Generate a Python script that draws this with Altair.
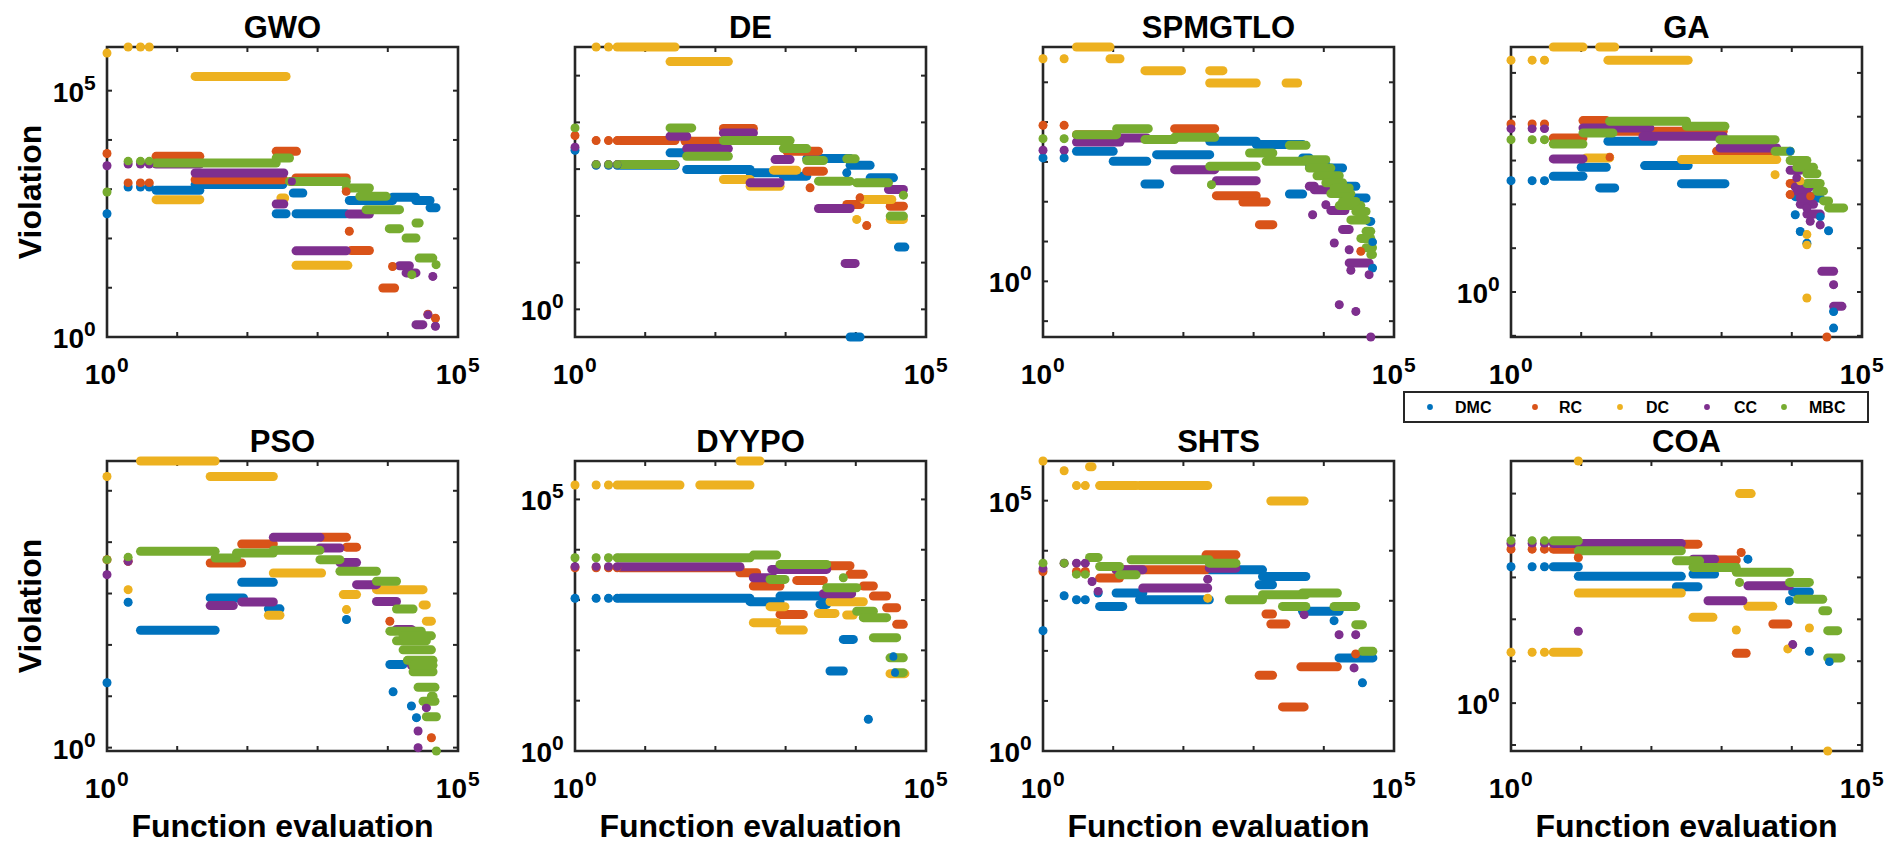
import math
import altair as alt
import pandas as pd

SERIES = ["DMC", "RC", "DC", "CC", "MBC"]
COLORS = ["#0072BD", "#D95319", "#EDB120", "#7E2F8E", "#77AC30"]
PANELS = ["GWO", "DE", "SPMGTLO", "GA", "PSO", "DYYPO", "SHTS", "COA"]
X_TITLE = "Function evaluation"
Y_TITLE = "Violation"

X_LIMITS = [1, 100000]
X_LABELED = [1, 100000]
X_MINOR = [10, 100, 1000, 10000]

Y_MIN = [1, 0.256, 0.04, 0.094, 0.86, 1, 1, 0.072]
Y_MAX = [7.7e5, 4.1e5, 7.7e5, 3.9e5, 3.8e5, 5.8e5, 6.2e5, 6.0e5]
Y_LABELED = [[1, 100000], [1], [1], [1], [1], [1, 100000], [1, 100000], [1]]
Y_MINOR = [
    [10, 100, 1e3, 1e4, 1e5],
    [1, 10, 100, 1e3, 1e4, 1e5],
    [0.1, 1, 10, 100, 1e3, 1e4, 1e5],
    [0.1, 1, 10, 100, 1e3, 1e4, 1e5],
    [1, 10, 100, 1e3, 1e4, 1e5],
    [10, 100, 1e3, 1e4, 1e5],
    [10, 100, 1e3, 1e4, 1e5],
    [0.1, 1, 10, 100, 1e3, 1e4, 1e5],
]

# (series, first evaluation, last evaluation, violation)
GWO = [
    ("DMC", 1, 1, 318), ("DMC", 2, 2, 1110), ("DMC", 3, 3, 1110), ("DMC", 4, 4, 1110),
    ("DMC", 5, 21, 950), ("DMC", 18, 320, 1240), ("DMC", 257, 356, 318), ("DMC", 450, 616, 837),
    ("DMC", 493, 2560, 318), ("DMC", 2830, 11700, 590), ("DMC", 11700, 25000, 684),
    ("DMC", 25000, 40000, 590), ("DMC", 40000, 48700, 420),
    ("RC", 1, 1, 5300), ("RC", 2, 2, 1340), ("RC", 3, 3, 1340), ("RC", 4, 4, 1340),
    ("RC", 5, 21, 4650), ("RC", 18, 330, 1560), ("RC", 257, 500, 5870), ("RC", 490, 2560, 1690),
    ("RC", 2560, 2560, 910), ("RC", 2830, 2830, 140), ("RC", 3000, 5470, 57),
    ("RC", 11700, 11700, 27), ("RC", 8500, 12500, 9.9), ("RC", 37300, 37300, 2.9),
    ("RC", 47700, 47700, 2.4),
    ("DC", 1, 1, 5.8e5), ("DC", 2, 2, 7.7e5), ("DC", 3, 3, 7.7e5), ("DC", 4, 4, 7.7e5),
    ("DC", 5, 21, 614), ("DC", 18, 356, 1.95e5), ("DC", 300, 340, 662), ("DC", 493, 2700, 28.5),
    ("CC", 1, 1, 3000), ("CC", 2, 2, 3250), ("CC", 3, 3, 3250), ("CC", 4, 4, 3250),
    ("CC", 5, 21, 3250), ("CC", 18, 330, 2130), ("CC", 257, 330, 500), ("CC", 430, 430, 1440),
    ("CC", 493, 2560, 56), ("CC", 2830, 5470, 314), ("CC", 14700, 20300, 28),
    ("CC", 18200, 25200, 20), ("CC", 43800, 43800, 17), ("CC", 25200, 31600, 1.78),
    ("CC", 37300, 37300, 2.84), ("CC", 47700, 47700, 1.65),
    ("MBC", 1, 1, 877), ("MBC", 2, 2, 3680), ("MBC", 3, 3, 3680), ("MBC", 4, 4, 3680),
    ("MBC", 5, 257, 3400), ("MBC", 257, 398, 4300), ("MBC", 398, 2560, 1440),
    ("MBC", 2560, 5470, 1060), ("MBC", 4000, 9500, 716), ("MBC", 4900, 14700, 384),
    ("MBC", 10500, 14700, 158), ("MBC", 18200, 25200, 102), ("MBC", 25200, 28000, 206),
    ("MBC", 28000, 43800, 40), ("MBC", 22000, 22000, 18.4), ("MBC", 48700, 48700, 29.4),
]

DE = [
    ("DMC", 1, 1, 2540), ("DMC", 2, 2, 1210), ("DMC", 3, 3, 1210), ("DMC", 4, 4, 1210),
    ("DMC", 4.4, 26.6, 1210), ("DMC", 22.6, 39, 2230), ("DMC", 39, 312, 980),
    ("DMC", 312, 930, 832), ("DMC", 930, 2000, 706), ("DMC", 2000, 8300, 1680),
    ("DMC", 8300, 16000, 1210), ("DMC", 7440, 7440, 832), ("DMC", 16000, 34400, 650),
    ("DMC", 40500, 50000, 21.5), ("DMC", 8300, 11500, 0.256),
    ("RC", 1, 1, 5220), ("RC", 2, 2, 4080), ("RC", 3, 3, 4080), ("RC", 4, 4, 4080),
    ("RC", 4.4, 26.6, 4080), ("RC", 37, 130, 3950), ("RC", 130, 348, 7400),
    ("RC", 1040, 2940, 2420), ("RC", 2000, 3460, 903), ("RC", 2230, 2230, 398),
    ("RC", 7440, 11500, 175), ("RC", 11500, 11500, 243), ("RC", 14300, 14300, 62),
    ("RC", 30900, 47700, 161),
    ("DC", 2, 2, 4.1e5), ("DC", 3, 3, 4.1e5), ("DC", 4, 4, 4.1e5), ("DC", 4.4, 26.6, 4.1e5),
    ("DC", 22.6, 153, 2.0e5), ("DC", 130, 312, 600), ("DC", 312, 835, 431),
    ("DC", 671, 1440, 950), ("DC", 12900, 32600, 224), ("DC", 10300, 10300, 84),
    ("DC", 30900, 47700, 84),
    ("CC", 1, 1, 2940), ("CC", 2, 2, 1250), ("CC", 3, 3, 1250), ("CC", 4, 4, 1250),
    ("CC", 4.4, 26.6, 1250), ("CC", 22.6, 39, 5060), ("CC", 39, 153, 2750),
    ("CC", 130, 348, 5960), ("CC", 312, 835, 509), ("CC", 708, 1160, 1600),
    ("CC", 2940, 8300, 144), ("CC", 7040, 9800, 9.6), ("CC", 29200, 47700, 366),
    ("MBC", 1, 1, 7620), ("MBC", 2, 2, 1250), ("MBC", 3, 3, 1250), ("MBC", 4, 4, 1250),
    ("MBC", 4.4, 26.6, 1250), ("MBC", 22.6, 46, 7620), ("MBC", 39, 153, 1890),
    ("MBC", 130, 1160, 4080), ("MBC", 930, 2000, 2750), ("MBC", 2000, 3460, 1530),
    ("MBC", 2940, 8300, 552), ("MBC", 7440, 9800, 1660), ("MBC", 10300, 29200, 509),
    ("MBC", 30900, 47700, 99), ("MBC", 47700, 47700, 277),
]

SPMGTLO = [
    ("DMC", 1, 1, 1260), ("DMC", 2, 2, 1260), ("DMC", 3, 10, 1850), ("DMC", 10, 30, 1036),
    ("DMC", 28.3, 46, 279), ("DMC", 41.5, 237, 1520), ("DMC", 237, 1090, 3300),
    ("DMC", 1090, 5000, 2720), ("DMC", 3240, 5000, 156), ("DMC", 5000, 6220, 1260),
    ("DMC", 6220, 10700, 853), ("DMC", 10700, 18500, 704), ("DMC", 18500, 28600, 244),
    ("DMC", 28600, 40000, 124), ("DMC", 44200, 46700, 32), ("DMC", 49400, 49400, 9.7),
    ("DMC", 49400, 49400, 2.16),
    ("RC", 1, 1, 8300), ("RC", 2, 2, 8300), ("RC", 3, 9, 4840), ("RC", 75, 279, 6850),
    ("RC", 295, 1090, 142), ("RC", 704, 1510, 98), ("RC", 1210, 1880, 26.5),
    ("RC", 33700, 33700, 5.7),
    ("DC", 1, 1, 3.9e5), ("DC", 2, 2, 3.9e5), ("DC", 3, 9, 7.7e5), ("DC", 9, 12.5, 3.9e5),
    ("DC", 28.3, 94, 1.96e5), ("DC", 237, 366, 1.96e5), ("DC", 237, 1090, 9.6e4),
    ("DC", 2900, 4250, 9.6e4),
    ("CC", 1, 1, 1960), ("CC", 2, 2, 1960), ("CC", 3, 12.5, 3170), ("CC", 11.2, 30, 3990),
    ("CC", 75, 279, 640), ("CC", 295, 1090, 338), ("CC", 6220, 7320, 244),
    ("CC", 7320, 12600, 200), ("CC", 12600, 20000, 60), ("CC", 18500, 23000, 20),
    ("CC", 6930, 6930, 47), ("CC", 10700, 10700, 84), ("CC", 14100, 14100, 9.2),
    ("CC", 23000, 23000, 6.2), ("CC", 23000, 44200, 2.9), ("CC", 24300, 24300, 1.9),
    ("CC", 44200, 44200, 1.47), ("CC", 16600, 16600, 0.26), ("CC", 28600, 28600, 0.176),
    ("CC", 46700, 46700, 0.04),
    ("MBC", 1, 1, 3840), ("MBC", 2, 2, 3840), ("MBC", 3, 11.2, 4840), ("MBC", 11.2, 31.6, 6850),
    ("MBC", 28.3, 75, 3630), ("MBC", 75, 279, 4150), ("MBC", 237, 1090, 775),
    ("MBC", 251, 251, 268), ("MBC", 876, 1880, 1680), ("MBC", 1510, 5580, 1036),
    ("MBC", 3240, 5580, 2610), ("MBC", 5580, 10700, 1140), ("MBC", 6220, 12600, 700),
    ("MBC", 8000, 16600, 450), ("MBC", 10700, 18500, 300), ("MBC", 12600, 24300, 160),
    ("MBC", 14100, 23000, 221), ("MBC", 16600, 33700, 80), ("MBC", 18500, 28600, 102),
    ("MBC", 24300, 40000, 35), ("MBC", 28600, 40000, 57), ("MBC", 33700, 46700, 12),
    ("MBC", 40000, 46700, 18), ("MBC", 40000, 49400, 7), ("MBC", 46700, 49400, 4.7),
]

GA = [
    ("DMC", 1, 1, 348), ("DMC", 2, 2, 348), ("DMC", 3, 3, 348), ("DMC", 4, 10.6, 437),
    ("DMC", 10, 22.8, 702), ("DMC", 18.3, 30, 237), ("DMC", 24, 106, 2750),
    ("DMC", 80, 334, 766), ("DMC", 268, 1116, 297), ("DMC", 9470, 9470, 1630),
    ("DMC", 11200, 20400, 150), ("DMC", 11200, 11200, 58), ("DMC", 13200, 13200, 24),
    ("DMC", 16400, 16400, 13), ("DMC", 18300, 25400, 140), ("DMC", 25400, 25400, 53),
    ("DMC", 33400, 33400, 25), ("DMC", 39400, 39400, 0.36), ("DMC", 39400, 39400, 0.15),
    ("RC", 1, 1, 6850), ("RC", 2, 2, 6850), ("RC", 3, 3, 6850), ("RC", 4, 10.6, 3280),
    ("RC", 10.6, 22.8, 8160), ("RC", 25.4, 25.4, 1190), ("RC", 28.3, 1056, 4660),
    ("RC", 849, 6110, 1630), ("RC", 9470, 13200, 300), ("RC", 9470, 9470, 167),
    ("RC", 18300, 18300, 153), ("RC", 31600, 31600, 0.094),
    ("DC", 1, 1, 1.95e5), ("DC", 2, 2, 1.95e5), ("DC", 3, 3, 1.95e5), ("DC", 4, 10.6, 3.9e5),
    ("DC", 18.3, 30, 3.9e5), ("DC", 24, 334, 1.95e5), ("DC", 11.8, 25.4, 1150),
    ("DC", 268, 6110, 1050), ("DC", 5780, 5780, 477), ("DC", 13200, 13200, 336),
    ("DC", 16400, 16400, 20.4), ("DC", 16400, 16400, 12), ("DC", 16400, 16400, 0.73),
    ("CC", 1, 1, 5360), ("CC", 2, 2, 5360), ("CC", 3, 3, 5360), ("CC", 4, 10.6, 1090),
    ("CC", 10.6, 95, 5550), ("CC", 76, 1056, 3580), ("CC", 947, 6110, 1940),
    ("CC", 9470, 13200, 600), ("CC", 11200, 18300, 250), ("CC", 13200, 20400, 100),
    ("CC", 16400, 25400, 60),
    ("CC", 11800, 11800, 401), ("CC", 11800, 16400, 200), ("CC", 13200, 16400, 140),
    ("CC", 16400, 16400, 83), ("CC", 18300, 18300, 41), ("CC", 25400, 25400, 34),
    ("CC", 26800, 39400, 2.97), ("CC", 39400, 39400, 1.47), ("CC", 39400, 51800, 0.47),
    ("MBC", 1, 1, 3000), ("MBC", 2, 2, 3000), ("MBC", 3, 3, 3000), ("MBC", 4, 10.6, 2390),
    ("MBC", 10.6, 28.3, 4270), ("MBC", 25.4, 316, 7880), ("MBC", 316, 1116, 6060),
    ("MBC", 947, 5780, 3000), ("MBC", 5780, 9470, 1630), ("MBC", 9470, 16400, 1000),
    ("MBC", 11800, 20400, 700), ("MBC", 16400, 25400, 300),
    ("MBC", 16400, 22800, 500), ("MBC", 22800, 28300, 200), ("MBC", 28300, 33400, 120),
    ("MBC", 33400, 54700, 83),
]

PSO = [
    ("DMC", 1, 1, 18.3), ("DMC", 2, 2, 676), ("DMC", 3, 34.7, 193), ("DMC", 29.5, 88, 822),
    ("DMC", 83, 234, 1660), ("DMC", 199, 291, 503), ("DMC", 2580, 2580, 312),
    ("DMC", 10700, 16500, 41.6), ("DMC", 11900, 11900, 12.2), ("DMC", 21700, 21700, 6.45),
    ("DMC", 25600, 25600, 3.83),
    ("RC", 1, 1, 4560), ("RC", 2, 2, 4240), ("RC", 29.5, 83, 3930), ("RC", 83, 234, 9200),
    ("RC", 1140, 2580, 12400), ("RC", 2580, 3590, 8000), ("RC", 10700, 10700, 289),
    ("RC", 41800, 41800, 1.56),
    ("DC", 1, 1, 1.9e5), ("DC", 2, 2, 1190), ("DC", 3, 34.7, 3.8e5), ("DC", 29.5, 234, 1.9e5),
    ("DC", 199, 291, 378), ("DC", 234, 1140, 2510), ("DC", 2320, 3590, 953),
    ("DC", 2580, 2580, 487), ("DC", 6900, 31800, 1190), ("DC", 31800, 35400, 600),
    ("DC", 35400, 41800, 290),
    ("CC", 1, 1, 2330), ("CC", 2, 2, 4240), ("CC", 29.5, 63, 583), ("CC", 83, 234, 687),
    ("CC", 234, 1080, 12400), ("CC", 1080, 2080, 7690), ("CC", 2080, 3590, 4000),
    ("CC", 3590, 6900, 1490), ("CC", 6900, 13300, 700), ("CC", 13300, 21700, 200),
    ("CC", 21700, 27000, 40), ("CC", 27000, 27000, 2.11), ("CC", 27000, 27000, 1.0),
    ("CC", 35400, 35400, 6.0),
    ("MBC", 1, 1, 4560), ("MBC", 2, 2, 5070), ("MBC", 3, 34.7, 6620), ("MBC", 34.7, 70, 4920),
    ("MBC", 70, 234, 6150), ("MBC", 234, 1080, 6930), ("MBC", 1080, 2080, 4560),
    ("MBC", 2080, 6900, 2710), ("MBC", 6900, 13300, 1730), ("MBC", 13300, 22900, 500),
    ("MBC", 10700, 30000, 185), ("MBC", 13300, 35400, 120), ("MBC", 16500, 41800, 80),
    ("MBC", 19000, 44100, 50), ("MBC", 22900, 44100, 30), ("MBC", 27000, 47000, 15),
    ("MBC", 31800, 47000, 8), ("MBC", 35400, 49200, 4),
    ("MBC", 16500, 41800, 150), ("MBC", 22900, 44100, 40), ("MBC", 41800, 44100, 10),
    ("MBC", 49200, 49200, 0.86),
]

DYYPO = [
    ("DMC", 1, 1, 1080), ("DMC", 2, 2, 1080), ("DMC", 3, 3, 1080), ("DMC", 4, 4, 1080),
    ("DMC", 4.4, 311, 1080), ("DMC", 311, 832, 930), ("DMC", 832, 3450, 1200),
    ("DMC", 3090, 3850, 820), ("DMC", 4290, 6640, 38.8), ("DMC", 6640, 9220, 165),
    ("DMC", 15100, 15100, 4.26), ("DMC", 34300, 34300, 74.8), ("DMC", 36200, 36200, 36),
    ("RC", 1, 1, 4390), ("RC", 2, 2, 4390), ("RC", 3, 3, 4390), ("RC", 4, 4, 4390),
    ("RC", 4.4, 224, 4390), ("RC", 224, 387, 3490), ("RC", 347, 832, 1900),
    ("RC", 832, 1790, 519), ("RC", 1440, 3450, 2460), ("RC", 3850, 8270, 4800),
    ("RC", 8270, 12800, 3240), ("RC", 12800, 17800, 1900), ("RC", 17800, 27500, 1200),
    ("RC", 27500, 38200, 704), ("RC", 38200, 47500, 329),
    ("DC", 1, 1, 1.93e5), ("DC", 2, 2, 1.93e5), ("DC", 3, 3, 1.93e5), ("DC", 4, 4, 1.93e5),
    ("DC", 4.4, 31.3, 1.93e5), ("DC", 60, 311, 1.93e5), ("DC", 224, 432, 5.8e5),
    ("DC", 347, 746, 355), ("DC", 600, 980, 738), ("DC", 832, 1790, 253),
    ("DC", 2930, 5060, 543), ("DC", 4290, 12800, 927), ("DC", 7410, 9220, 504),
    ("DC", 30700, 50000, 34.4),
    ("CC", 1, 1, 4590), ("CC", 2, 2, 4590), ("CC", 3, 3, 4590), ("CC", 4, 4, 4590),
    ("CC", 4.4, 224, 4590), ("CC", 347, 669, 2780), ("CC", 634, 3850, 4070),
    ("CC", 3450, 8730, 1340),
    ("MBC", 1, 1, 6930), ("MBC", 2, 2, 6930), ("MBC", 3, 3, 6930), ("MBC", 4, 4, 6930),
    ("MBC", 4.4, 311, 6930), ("MBC", 347, 746, 7830), ("MBC", 600, 980, 2570),
    ("MBC", 832, 3850, 5110), ("MBC", 3850, 10300, 1760), ("MBC", 6640, 6640, 2780),
    ("MBC", 10300, 17800, 600), ("MBC", 12800, 27500, 446), ("MBC", 17800, 38200, 179),
    ("MBC", 30700, 47500, 71), ("MBC", 38200, 47500, 36),
]

SHTS = [
    ("DMC", 1, 1, 253), ("DMC", 2, 2, 1260), ("DMC", 3, 3, 1050), ("DMC", 4, 4, 1050),
    ("DMC", 6.1, 6.1, 1430), ("DMC", 6.4, 13.7, 773), ("DMC", 11, 26.4, 1430),
    ("DMC", 23.7, 234, 1050), ("DMC", 234, 1340, 4160), ("DMC", 1200, 1860, 2090),
    ("DMC", 1340, 5550, 3060), ("DMC", 4980, 16500, 615), ("DMC", 14000, 14000, 401),
    ("DMC", 16500, 50000, 72.3), ("DMC", 35500, 35500, 23),
    ("RC", 1, 1, 3850), ("RC", 3, 3, 3850), ("RC", 4, 4, 3850), ("RC", 6.4, 12.3, 2840),
    ("RC", 11, 210, 4160), ("RC", 210, 561, 8270), ("RC", 1500, 1860, 544),
    ("RC", 1760, 2880, 344), ("RC", 1200, 1860, 32.6), ("RC", 2580, 5250, 7.6),
    ("RC", 4710, 15600, 47.9), ("RC", 28500, 28500, 86.9),
    ("DC", 1, 1, 6.2e5), ("DC", 2, 2, 3.96e5), ("DC", 3, 3, 2e5), ("DC", 4, 4, 2e5),
    ("DC", 4.6, 5, 4.75e5), ("DC", 6.4, 21.2, 2e5), ("DC", 23.7, 222, 2e5),
    ("DC", 222, 222, 1130), ("DC", 1760, 5250, 9.85e4),
    ("CC", 1, 1, 4350), ("CC", 2, 2, 5640), ("CC", 3, 3, 5640), ("CC", 4, 4, 5640),
    ("CC", 5, 5, 2430), ("CC", 6.1, 6.1, 1540), ("CC", 11, 26.4, 4160), ("CC", 26.4, 222, 1800),
    ("CC", 222, 222, 2710), ("CC", 234, 561, 4490), ("CC", 5250, 5250, 528),
    ("CC", 16500, 16500, 211), ("CC", 28500, 28500, 211), ("CC", 27000, 27000, 45.7),
    ("MBC", 1, 1, 5640), ("MBC", 2, 2, 5640), ("MBC", 3, 3, 3410), ("MBC", 4, 4, 3410),
    ("MBC", 4.6, 6.1, 7330), ("MBC", 6.4, 12.3, 4840), ("MBC", 12.3, 21.2, 3300),
    ("MBC", 18, 234, 6580), ("MBC", 234, 561, 5640), ("MBC", 451, 1340, 1050),
    ("MBC", 1340, 5550, 1320), ("MBC", 2580, 5550, 773), ("MBC", 4980, 15600, 1430),
    ("MBC", 14000, 28500, 773), ("MBC", 28500, 35500, 334), ("MBC", 35500, 50000, 98),
]

COA = [
    ("DMC", 1, 1, 1800), ("DMC", 2, 2, 1800), ("DMC", 3, 3, 1800), ("DMC", 4, 9.1, 1800),
    ("DMC", 9.1, 267, 1060), ("DMC", 227, 461, 600), ("DMC", 391, 795, 1200),
    ("DMC", 2370, 2370, 2730), ("DMC", 9260, 9260, 278), ("DMC", 10300, 17800, 450),
    ("DMC", 17800, 17800, 17.3), ("DMC", 34300, 34300, 9.8),
    ("RC", 1, 1, 4730), ("RC", 2, 2, 4730), ("RC", 3, 3, 4730), ("RC", 4, 9.1, 4730),
    ("RC", 9.1, 9.1, 2990), ("RC", 9.1, 461, 6220), ("RC", 436, 1620, 2590),
    ("RC", 1900, 1900, 3940), ("RC", 1620, 2240, 15.5), ("RC", 5370, 8770, 77.4),
    ("DC", 1, 1, 16.4), ("DC", 2, 2, 16.4), ("DC", 3, 3, 16.4), ("DC", 4, 9.1, 16.4),
    ("DC", 9.1, 9.1, 6.0e5), ("DC", 9.1, 267, 424), ("DC", 1800, 2640, 1.0e5),
    ("DC", 391, 753, 112), ("DC", 1620, 1620, 55.7), ("DC", 2370, 5370, 204),
    ("DC", 8770, 8770, 19.7), ("DC", 17800, 17800, 62.2), ("DC", 32500, 32500, 0.072),
    ("CC", 1, 1, 6450), ("CC", 2, 2, 6450), ("CC", 3, 3, 6450), ("CC", 4, 9.1, 6450),
    ("CC", 9.1, 9.1, 51.8), ("CC", 9.1, 267, 6450), ("CC", 391, 795, 2730),
    ("CC", 640, 2010, 278), ("CC", 2370, 9260, 634), ("CC", 10300, 10300, 24.9),
    ("MBC", 1, 1, 7460), ("MBC", 2, 2, 7460), ("MBC", 3, 3, 7460), ("MBC", 4, 9.1, 7460),
    ("MBC", 9.1, 267, 4310), ("MBC", 227, 487, 2490), ("MBC", 391, 1620, 1730),
    ("MBC", 1620, 9260, 1320), ("MBC", 1800, 1800, 760), ("MBC", 9260, 17800, 760),
    ("MBC", 12000, 27600, 300), ("MBC", 27600, 32500, 160), ("MBC", 32500, 45100, 53.7),
    ("MBC", 32500, 50000, 12),
]

PANEL_DATA = [GWO, DE, SPMGTLO, GA, PSO, DYYPO, SHTS, COA]

# ---- layout / style (pixels) ----
W, H = 351, 290
FONT = "Liberation Sans"
AXC = "#262626"
TICK = 5
BASE_FS = 28
EXP_FS = 21
LEGEND_PANEL = 3
LEGEND_BOX = (-107, 357, 345, 375)
LEGEND_DOT_X = [-81, 24, 109, 196, 273]
LEGEND_TXT_X = [-56, 48, 135, 223, 298]
LEGEND_MID_Y = 360

color_scale = alt.Scale(domain=SERIES, range=COLORS)
TXT = dict(font=FONT, fontWeight="bold", color="black")


def label_frame(values):
    return pd.DataFrame({
        "v": values,
        "base": ["10"] * len(values),
        "exp": [str(int(round(math.log10(v)))) for v in values],
    })


def legend_layers():
    x1, x2, y1, y2 = LEGEND_BOX
    box = alt.Chart(pd.DataFrame({"k": [0]})).mark_rect(
        fill="white", stroke=AXC, strokeWidth=2).encode(
        x=alt.value(x1), x2=alt.value(x2), y=alt.value(y1), y2=alt.value(y2))
    out = [box]
    for s, dx, tx in zip(SERIES, LEGEND_DOT_X, LEGEND_TXT_X):
        one = pd.DataFrame({"series": [s]})
        out.append(alt.Chart(one).mark_circle(size=34, opacity=1, strokeWidth=0).encode(
            x=alt.value(dx), y=alt.value(LEGEND_MID_Y),
            fill=alt.Fill("series:N", scale=color_scale, legend=None)))
        out.append(alt.Chart(one).mark_text(
            align="left", baseline="middle", fontSize=16, **TXT).encode(
            x=alt.value(tx), y=alt.value(LEGEND_MID_Y + 1), text="series:N"))
    return out


def make_panel(i):
    df = pd.DataFrame(PANEL_DATA[i], columns=["series", "x1", "x2", "y"])
    df["k"] = df["series"].map({s: j for j, s in enumerate(SERIES)})
    df = df.sort_values("k", kind="stable").reset_index(drop=True)
    dots = df[df["x1"] == df["x2"]].reset_index(drop=True)

    xs = alt.Scale(type="log", domain=X_LIMITS, nice=False)
    ys = alt.Scale(type="log", domain=[Y_MIN[i], Y_MAX[i]], nice=False)

    rules = alt.Chart(df).mark_rule(strokeWidth=9, strokeCap="round").encode(
        x=alt.X("x1:Q", scale=xs, axis=None),
        x2="x2:Q",
        y=alt.Y("y:Q", scale=ys, axis=None),
        stroke=alt.Stroke("series:N", scale=color_scale, legend=None),
    )
    pts = alt.Chart(dots).mark_circle(size=64, opacity=1, strokeWidth=0).encode(
        x=alt.X("x1:Q", scale=xs, axis=None),
        y=alt.Y("y:Q", scale=ys, axis=None),
        fill=alt.Fill("series:N", scale=color_scale, legend=None),
    )

    xt = pd.DataFrame({"x1": X_MINOR})
    yt = pd.DataFrame({"y": Y_MINOR[i]})
    tick_mark = dict(color=AXC, strokeWidth=2)
    tb = alt.Chart(xt).mark_rule(**tick_mark).encode(
        x=alt.X("x1:Q", scale=xs, axis=None), y=alt.value(H), y2=alt.value(H - TICK))
    tt = alt.Chart(xt).mark_rule(**tick_mark).encode(
        x=alt.X("x1:Q", scale=xs, axis=None), y=alt.value(0), y2=alt.value(TICK))
    tl = alt.Chart(yt).mark_rule(**tick_mark).encode(
        y=alt.Y("y:Q", scale=ys, axis=None), x=alt.value(0), x2=alt.value(TICK))
    tr = alt.Chart(yt).mark_rule(**tick_mark).encode(
        y=alt.Y("y:Q", scale=ys, axis=None), x=alt.value(W - TICK), x2=alt.value(W))

    xl = label_frame(X_LABELED)
    xb = alt.Chart(xl).mark_text(align="right", baseline="alphabetic", dx=9,
                                 fontSize=BASE_FS, **TXT).encode(
        x=alt.X("v:Q", scale=xs, axis=None), y=alt.value(H + 47), text="base:N")
    xe = alt.Chart(xl).mark_text(align="left", baseline="alphabetic", dx=10,
                                 fontSize=EXP_FS, **TXT).encode(
        x=alt.X("v:Q", scale=xs, axis=None), y=alt.value(H + 35), text="exp:N")

    yl = label_frame(Y_LABELED[i])
    yb = alt.Chart(yl).mark_text(align="right", baseline="alphabetic", dx=-23, dy=11,
                                 fontSize=BASE_FS, **TXT).encode(
        y=alt.Y("v:Q", scale=ys, axis=None), x=alt.value(0), text="base:N")
    ye = alt.Chart(yl).mark_text(align="left", baseline="alphabetic", dx=-23, dy=-1,
                                 fontSize=EXP_FS, **TXT).encode(
        y=alt.Y("v:Q", scale=ys, axis=None), x=alt.value(0), text="exp:N")

    ttl = alt.Chart(pd.DataFrame({"t": [PANELS[i]]})).mark_text(
        align="center", baseline="alphabetic", fontSize=31, **TXT).encode(
        text="t:N", x=alt.value(W / 2), y=alt.value(-9))

    layers = [tb, tt, tl, tr, rules, pts, xb, xe, yb, ye, ttl]

    if i % 4 == 0:
        layers.append(alt.Chart(pd.DataFrame({"t": [Y_TITLE]})).mark_text(
            align="center", baseline="alphabetic", angle=270, fontSize=32, **TXT).encode(
            text="t:N", x=alt.value(-66), y=alt.value(H / 2)))
    if i >= 4:
        layers.append(alt.Chart(pd.DataFrame({"t": [X_TITLE]})).mark_text(
            align="center", baseline="alphabetic", fontSize=32, **TXT).encode(
            text="t:N", x=alt.value(W / 2), y=alt.value(H + 86)))
    if i == LEGEND_PANEL:
        layers.extend(legend_layers())

    return alt.layer(*layers).properties(width=W, height=H)


panels = [make_panel(i) for i in range(8)]

chart = alt.concat(
    *panels, columns=4, spacing={"row": 124, "column": 117}, bounds="flush"
).resolve_scale(
    x="independent", y="independent"
).configure_view(
    stroke=AXC, strokeWidth=2.6
).properties(
    padding={"left": 5, "top": 3, "right": 5, "bottom": 0},
    background="white",
)

chart.save("out.html", embed_options={"renderer": "svg", "actions": False})
